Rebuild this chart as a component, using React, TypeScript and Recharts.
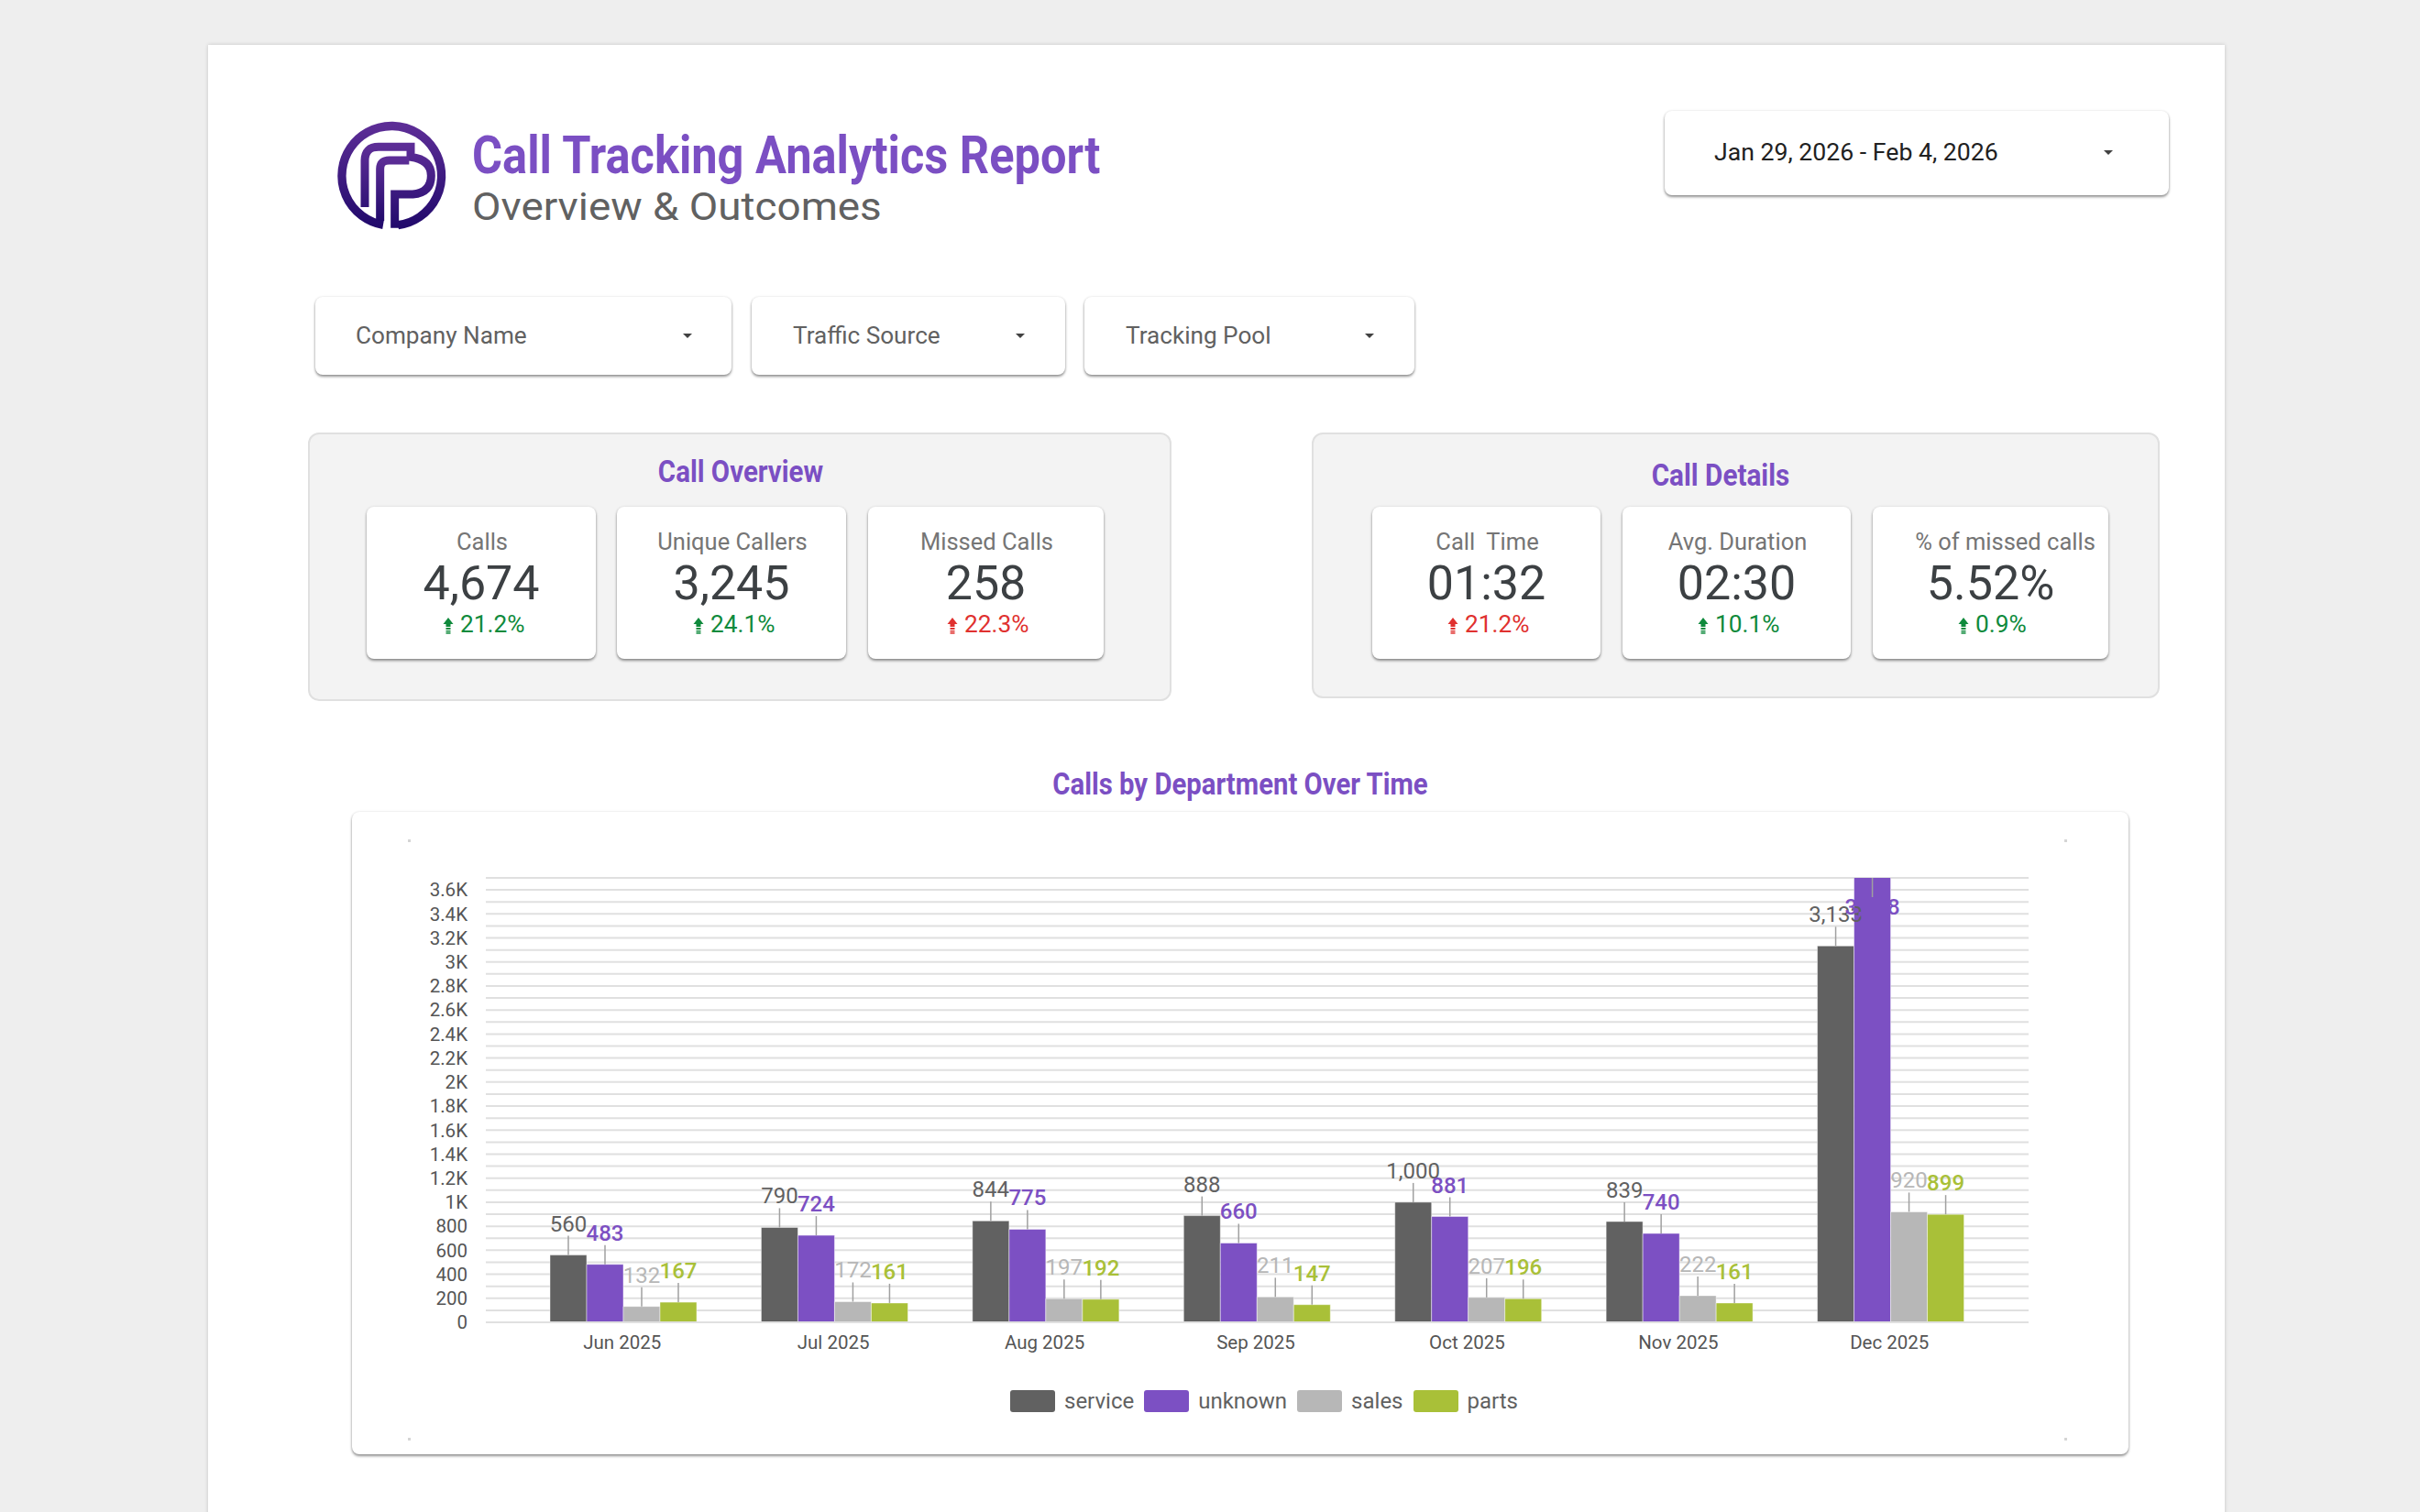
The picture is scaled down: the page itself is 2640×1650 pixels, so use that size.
import React from 'react';
import { BarChart, Bar, XAxis, YAxis, CartesianGrid, Legend, LabelList } from 'recharts';

const months = ['Jun 2025', 'Jul 2025', 'Aug 2025', 'Sep 2025', 'Oct 2025', 'Nov 2025', 'Dec 2025'];
const serviceCalls = [560, 790, 844, 888, 1000, 839, 3133];
const unknownCalls = [483, 724, 775, 660, 881, 740, 3838];
const salesCalls = [132, 172, 197, 211, 207, 222, 920];
const partsCalls = [167, 161, 192, 147, 196, 161, 899];
const yTicks = [0, 100, 200, 300, 400, 500, 600, 700, 800, 900, 1000, 1100, 1200, 1300, 1400, 1500, 1600, 1700, 1800, 1900, 2000, 2100, 2200, 2300, 2400, 2500, 2600, 2700, 2800, 2900, 3000, 3100, 3200, 3300, 3400, 3500, 3600, 3700];
const overviewCards = [
  { label: 'Calls', value: '4,674', delta: '21.2%', good: true },
  { label: 'Unique Callers', value: '3,245', delta: '24.1%', good: true },
  { label: 'Missed Calls', value: '258', delta: '22.3%', good: false },
];
const detailCards = [
  { label: 'Call  Time', value: '01:32', delta: '21.2%', good: false },
  { label: 'Avg. Duration', value: '02:30', delta: '10.1%', good: true },
  { label: '% of missed calls', value: '5.52%', delta: '0.9%', good: true },
];

const rows = months.map((month, i) => ({
  month,
  service: serviceCalls[i],
  unknown: unknownCalls[i],
  sales: salesCalls[i],
  parts: partsCalls[i],
}));

const PURPLE = '#7b4fc3';
const FONT = 'Roboto, sans-serif';
const PLOT_TOP = 72;

function Txt({ x, y, size, color, weight = 400, sx = 1, center = false, children }: any) {
  return (
    <div
      style={{
        position: 'absolute',
        left: x,
        top: y,
        fontFamily: FONT,
        fontSize: size,
        fontWeight: weight,
        color,
        lineHeight: 1,
        whiteSpace: 'pre',
        transformOrigin: center ? 'center center' : 'left center',
        transform: `translate(${center ? '-50%' : '0'}, -50%) scaleX(${sx})`,
      }}
    >
      {children}
    </div>
  );
}

function Box({ x, y, x2, y2 }: any) {
  return (
    <div
      style={{
        position: 'absolute',
        left: x,
        top: y,
        width: x2 - x,
        height: y2 - y,
        background: '#fff',
        borderRadius: 8,
        boxShadow: '0 2px 3px rgba(0,0,0,0.42), 0 0 3px rgba(0,0,0,0.10)',
      }}
    />
  );
}

function Caret({ x, y }: any) {
  return (
    <div
      style={{
        position: 'absolute',
        left: x - 5,
        top: y - 3,
        width: 0,
        height: 0,
        borderLeft: '5px solid transparent',
        borderRight: '5px solid transparent',
        borderTop: '5px solid #424242',
      }}
    />
  );
}

function Dropdown({ x, x2, y, y2, textX, caretX, label, color = '#616161', sx = 1.025 }: any) {
  const cy = (y + y2) / 2;
  return (
    <>
      <Box x={x} y={y} x2={x2} y2={y2} />
      <Txt x={textX} y={cy} size={25.5} color={color} sx={sx}>{label}</Txt>
      <Caret x={caretX} y={cy} />
    </>
  );
}

function UpArrow({ x, y, color }: any) {
  return (
    <svg style={{ position: 'absolute', left: x - 6, top: y - 9 }} width={12} height={18} viewBox="0 0 12 18">
      <path d="M6 0 L11.5 7 L0.5 7 Z" fill={color} />
      <rect x={3.5} y={7} width={5} height={3} fill={color} />
      <rect x={3.5} y={11} width={5} height={2} fill={color} />
      <rect x={3.5} y={14} width={5} height={1.5} fill={color} />
      <rect x={3.5} y={16.2} width={5} height={1.5} fill={color} />
    </svg>
  );
}

function KpiCard({ x, x2, label, value, delta, good, labelShift = 0 }: any) {
  const cx = (x + x2) / 2;
  const color = good ? '#0f8a3c' : '#e0312f';
  const half = delta.length * 6.7;
  return (
    <>
      <Box x={x} y={553} x2={x2} y2={719} />
      <Txt x={cx + labelShift + 1} y={591.5} size={25.5} color="#757575" center>{label}</Txt>
      <Txt x={cx} y={637} size={52} color="#3c4043" center>{value}</Txt>
      <UpArrow x={cx - half - 3} y={683} color={color} />
      <Txt x={cx - half + 10} y={682} size={25.5} color={color} sx={1.03}>{delta}</Txt>
    </>
  );
}

function SectionPanel({ x, x2, y, y2 }: any) {
  return (
    <div
      style={{
        position: 'absolute',
        left: x,
        top: y,
        width: x2 - x,
        height: y2 - y,
        boxSizing: 'border-box',
        background: '#f3f3f3',
        border: '2px solid #e0e0e0',
        borderRadius: 12,
      }}
    />
  );
}

function Logo() {
  return (
    <svg style={{ position: 'absolute', left: 363, top: 126 }} width={135} height={135} viewBox="0 0 405 405">
      <defs>
        <linearGradient id="lg" x1="0" y1="0" x2="0" y2="1">
          <stop offset="0" stopColor="#5c2d96" />
          <stop offset="1" stopColor="#220a6c" />
        </linearGradient>
      </defs>
      <g fill="none" stroke="url(#lg)" strokeWidth={27} strokeLinejoin="miter">
        <path d="M165 358 A163 163 0 1 1 214 359" strokeWidth={28} />
        <path d="M105 300 L105 148 Q105 103 150 103 L255 103 L255 136 Q322 145 322 197 Q322 252 262 258 L203 258 L203 368" />
        <path d="M155 345 L155 175 Q155 147 185 147 L250 147" />
        <path d="M105 197 L268 197" strokeLinecap="round" />
      </g>
    </svg>
  );
}

function CornerMark({ x, y }: any) {
  return <div style={{ position: 'absolute', left: x, top: y, width: 3, height: 3, background: '#d5d5d5' }} />;
}

function ValueLabel(props: any) {
  const box = props.viewBox ?? props;
  const { x, y, width } = box;
  const { value, color, weight } = props;
  const cx = x + width / 2;
  const clipped = y < PLOT_TOP;
  const lineFrom = clipped ? PLOT_TOP : y;
  const lineTo = clipped ? PLOT_TOP + 21 : y - 21;
  const base = clipped ? PLOT_TOP + 40 : y - 26;
  return (
    <g>
      <text x={cx} y={base} textAnchor="middle" fontSize={24} fontWeight={weight} fontFamily={FONT} fill={color}>
        {Number(value).toLocaleString('en-US')}
      </text>
      <line x1={cx} x2={cx} y1={lineFrom} y2={lineTo} stroke="#a0a0a0" strokeWidth={1.5} />
    </g>
  );
}

function LegendItems({ payload }: any) {
  return (
    <div style={{ display: 'flex', alignItems: 'center', fontFamily: FONT, fontSize: 24, color: '#616161', lineHeight: '24px' }}>
      {(payload ?? []).map((p: any) => (
        <div key={p.value} style={{ display: 'flex', alignItems: 'center', marginRight: 11 }}>
          <div style={{ width: 49, height: 24, background: p.color, borderRadius: 3, marginRight: 10 }} />
          <span>{p.value}</span>
        </div>
      ))}
    </div>
  );
}

const formatY = (v: number) => {
  if (v % 200 !== 0) return '';
  return v >= 1000 ? `${v / 1000}K` : String(v);
};

function series(key: string, color: string, weight: number) {
  return (
    <Bar key={key} dataKey={key} name={key} fill={color} stroke="rgba(255,255,255,0.45)" strokeWidth={1} barSize={40} isAnimationActive={false}>
      <LabelList dataKey={key} content={(p: any) => <ValueLabel {...p} color={color} weight={weight} />} />
    </Bar>
  );
}

export default function App() {
  return (
    <div style={{ position: 'fixed', left: 0, top: 0, width: 2640, height: 1650, background: '#eeeeee', overflow: 'hidden', fontFamily: FONT }}>
      <div style={{ position: 'absolute', left: 227, top: 49, width: 2200, height: 1640, background: '#fff', boxShadow: '0 0 4px rgba(0,0,0,0.18)' }} />

      <Logo />
      <Txt x={515} y={169} size={57} color={PURPLE} weight={700} sx={0.887}>Call Tracking Analytics Report</Txt>
      <Txt x={515} y={225} size={43} color="#616161" sx={1.065}>Overview &amp; Outcomes</Txt>

      <Dropdown x={1816} x2={2366} y={121} y2={213} textX={1870} caretX={2300} label="Jan 29, 2026 - Feb 4, 2026" color="#212121" sx={1.045} />
      <Dropdown x={344} x2={798} y={324} y2={409} textX={388} caretX={750} label="Company Name" />
      <Dropdown x={820} x2={1162} y={324} y2={409} textX={865} caretX={1113} label="Traffic Source" />
      <Dropdown x={1183} x2={1543} y={324} y2={409} textX={1227.5} caretX={1494} label="Tracking Pool" />

      <SectionPanel x={336} x2={1278} y={472} y2={765} />
      <Txt x={808} y={514} size={33} color={PURPLE} weight={700} sx={0.893} center>Call Overview</Txt>
      <KpiCard x={400} x2={650} {...overviewCards[0]} />
      <KpiCard x={673} x2={923} {...overviewCards[1]} />
      <KpiCard x={947} x2={1204} {...overviewCards[2]} />

      <SectionPanel x={1431} x2={2356} y={472} y2={762} />
      <Txt x={1877} y={518} size={33} color={PURPLE} weight={700} sx={0.9} center>Call Details</Txt>
      <KpiCard x={1497} x2={1746} {...detailCards[0]} />
      <KpiCard x={1770} x2={2019} {...detailCards[1]} />
      <KpiCard x={2043} x2={2300} {...detailCards[2]} labelShift={15} />

      <Txt x={1353} y={855} size={33} color={PURPLE} weight={700} sx={0.888} center>Calls by Department Over Time</Txt>

      <Box x={384} y={886} x2={2322} y2={1587} />
      <CornerMark x={445} y={916} />
      <CornerMark x={445} y={1569} />
      <CornerMark x={2252} y={916} />
      <CornerMark x={2252} y={1569} />

      <div style={{ position: 'absolute', left: 384, top: 886 }}>
        <BarChart
          width={1938}
          height={702}
          data={rows}
          margin={{ top: PLOT_TOP, right: 109, bottom: 115, left: 60 }}
          barGap={0}
          barCategoryGap={35}
          style={{ fontFamily: FONT }}
        >
          <CartesianGrid horizontal vertical={false} stroke="#e0e0e0" strokeWidth={2} />
          <XAxis
            dataKey="month"
            height={30}
            padding={{ left: 35, right: 35 }}
            tickLine={false}
            axisLine={{ stroke: '#e0e0e0', strokeWidth: 2 }}
            tickSize={0}
            tickMargin={14}
            tick={{ fontSize: 20.5, fill: '#555', fontFamily: FONT, dx: -1.5 }}
            interval={0}
          />
          <YAxis
            width={86}
            domain={[0, 3700]}
            allowDataOverflow
            ticks={yTicks}
            interval={0}
            tickFormatter={formatY}
            axisLine={false}
            tickLine={false}
            tickSize={0}
            tickMargin={20}
            tick={{ fontSize: 20.5, fill: '#555', fontFamily: FONT }}
          />
          {series('service', '#616161', 400)}
          {series('unknown', '#7c50c3', 500)}
          {series('sales', '#b7b7b7', 400)}
          {series('parts', '#a9c038', 500)}
          <Legend
            layout="horizontal"
            align="center"
            verticalAlign="middle"
            itemSorter={null}
            content={(p: any) => <LegendItems payload={p.payload} />}
            wrapperStyle={{ left: 718, top: 631, width: 720, height: 24 }}
          />
        </BarChart>
      </div>
    </div>
  );
}
